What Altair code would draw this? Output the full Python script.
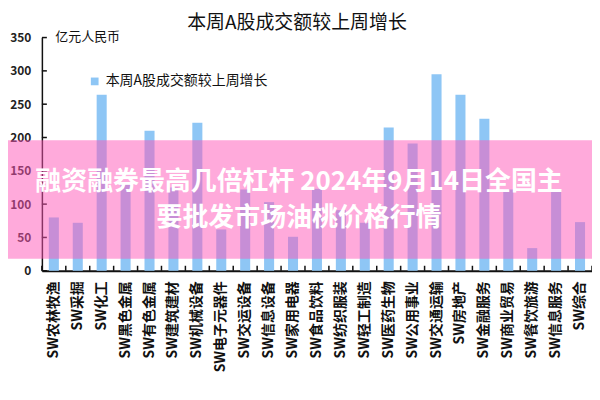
import altair as alt
import pandas as pd

categories = ["SW农林牧渔", "SW采掘", "SW化工", "SW黑色金属", "SW有色金属", "SW建筑建材",
              "SW机械设备", "SW电子元器件", "SW交运设备", "SW信息设备", "SW家用电器",
              "SW食品饮料", "SW纺织服装", "SW轻工制造", "SW医药生物", "SW公用事业",
              "SW交通运输", "SW房地产", "SW金融服务", "SW商业贸易", "SW餐饮旅游",
              "SW信息服务", "SW综合"]
values = [80, 72, 264, 130, 210, 125, 222, 62, 122, 103, 51, 123, 91, 72, 215, 191,
          295, 264, 228, 122, 34, 121, 73]
series_name = "本周A股成交额较上周增长"
y_ticks = [0, 50, 100, 150, 200, 250, 300, 350]
banner_lines = ["融资融券最高几倍杠杆 2024年9月14日全国主", "要批发市场油桃价格行情"]

FONT = "Noto Sans CJK SC"
W, H = 552, 234

df = pd.DataFrame({"cat": categories, "val": values, "series": series_name})
ticks_df = pd.DataFrame({"t": y_ticks})

x_axis = alt.Axis(title=None, labelAngle=270, labelFont=FONT, labelFontSize=14,
                  labelFontWeight="bold", labelColor="#111", labelPadding=10,
                  ticks=False, domainColor="#111", domainWidth=2,
                  labelLimit=200, labelOverlap=False)
y_axis = alt.Axis(title="亿元人民币", titleAngle=0, titleX=13, titleY=6,
                  titleAlign="left", titleFont=FONT, titleFontSize=13,
                  titleFontWeight="normal", titleColor="#111",
                  values=y_ticks, labelFont=FONT, labelFontSize=12,
                  labelFontWeight="bold", labelColor="#222", labelPadding=11,
                  labelOverlap=False, labelBound=False, labelFlush=False,
                  ticks=False, grid=False, domainColor="#111", domainWidth=1.5)
x_scale = alt.Scale(paddingInner=0, paddingOuter=0)
y_scale = alt.Scale(domain=[0, 350], nice=False)

bars = alt.Chart(df).mark_bar(width=alt.RelativeBandSize(0.42), color="#8EC6F5").encode(
    x=alt.X("cat:N", sort=categories, scale=x_scale, axis=x_axis),
    y=alt.Y("val:Q", scale=y_scale, axis=y_axis),
    color=alt.Color("series:N", scale=alt.Scale(range=["#8EC6F5"]),
                    legend=alt.Legend(title=None, orient="none", legendX=46, legendY=37,
                                      symbolType="square", symbolSize=60,
                                      labelLimit=400,
                                      labelFont=FONT, labelFontSize=14, labelColor="#111")),
)

xticks = alt.Chart(df).mark_rule(color="#111", strokeWidth=1.5).encode(
    x=alt.X("cat:N", sort=categories, scale=x_scale, axis=x_axis, bandPosition=0),
    y=alt.value(H), y2=alt.value(H - 5),
)
xtick_end = alt.Chart(df.head(1)).mark_rule(color="#111", strokeWidth=1.5).encode(
    x=alt.value(W), y=alt.value(H), y2=alt.value(H - 5),
)
yticks = alt.Chart(ticks_df).mark_rule(color="#111", strokeWidth=1.5).encode(
    y=alt.Y("t:Q", scale=y_scale, axis=y_axis), x=alt.value(0), x2=alt.value(5),
)

title = alt.Chart(df.head(1)).mark_text(font=FONT, fontSize=19, color="#111",
                                         align="center", baseline="middle").encode(
    x=alt.value(256), y=alt.value(-15), text=alt.value(series_name))

banner = alt.Chart(df.head(1)).mark_rect(color="#FF55B8", opacity=0.5).encode(
    x=alt.value(-34), x2=alt.value(W + 8), y=alt.value(103), y2=alt.value(222))

bdf = pd.DataFrame({"line": banner_lines, "yy": [145, 181]})
banner_text = alt.Chart(bdf).mark_text(font=FONT, fontSize=26, fontWeight="bold",
                                       color="white", align="center",
                                       baseline="middle").encode(
    x=alt.value(258), y=alt.Y("yy:Q", scale=None), text="line:N")

chart = alt.layer(bars, xticks, xtick_end, yticks, title, banner, banner_text).properties(
    width=W, height=H,
    autosize=alt.AutoSizeParams(type="none"),
    padding={"left": 34, "top": 29, "right": 0, "bottom": 121},
).configure_view(stroke=None)

chart.save("out.html", embed_options={"renderer": "svg", "actions": False})
